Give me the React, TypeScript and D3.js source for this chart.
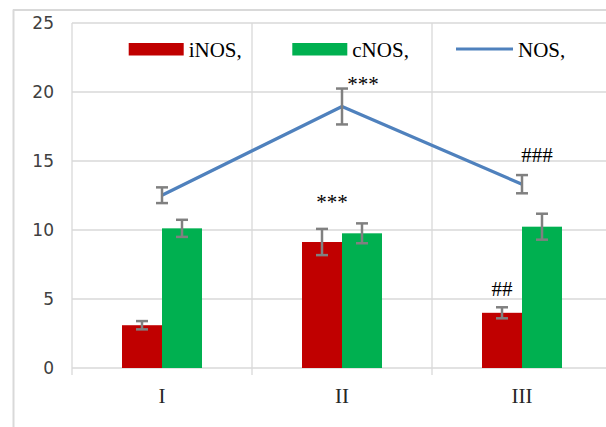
import React from "react";
import * as d3 from "d3";

// Categories and series values
const categories = ["I", "II", "III"];
const seriesNames = ["iNOS,", "cNOS,", "NOS,"];
const iNOS = [3.1, 9.13, 4.0];
const iNOSErr = [0.3, 0.95, 0.4];
const cNOS = [10.12, 9.76, 10.24];
const cNOSErr = [0.62, 0.72, 0.94];
const NOS = [12.52, 18.95, 13.32];
const NOSErr = [0.57, 1.3, 0.66];
const yTicks = [0, 5, 10, 15, 20, 25];

// Significance marks: which category / series they sit over
const marks = [
  { cat: "II", series: "NOS", text: "***" },
  { cat: "II", series: "bars", text: "***" },
  { cat: "III", series: "iNOS", text: "##" },
  { cat: "III", series: "NOS", text: "###" },
];

const W = 606;
const H = 427;
const RED = "#c00000";
const GREEN = "#00b050";
const BLUE = "#4f81bd";
const GRID = "#d9d9d9";
const ERR = "#808080";
const SERIF = "'Liberation Serif', 'Times New Roman', serif";

export default function App() {
  const x = d3.scaleBand<string>().domain(categories).range([72, 612]).paddingInner(0).paddingOuter(0);
  const bw = x.bandwidth();
  const sub = d3.scaleBand<string>().domain(["iNOS", "cNOS"]).range([bw / 2 - 40, bw / 2 + 40]);
  const y = d3.scaleLinear().domain([0, 25]).range([368, 23]);
  const cx = (c: string) => (x(c) as number) + bw / 2;

  const line = d3
    .line<number>()
    .x((_, i) => cx(categories[i]))
    .y((d) => y(d));

  const errBar = (xc: number, v: number, e: number, key: string) => (
    <g key={key} stroke={ERR} strokeWidth={2.5} fill="none">
      <line x1={xc} x2={xc} y1={y(v + e)} y2={y(v - e)} />
      <line x1={xc - 6} x2={xc + 6} y1={y(v + e)} y2={y(v + e)} />
      <line x1={xc - 6} x2={xc + 6} y1={y(v - e)} y2={y(v - e)} />
    </g>
  );

  const markPos = (m: { cat: string; series: string }) => {
    const i = categories.indexOf(m.cat);
    if (m.series === "NOS") {
      const top = y(NOS[i] + NOSErr[i]);
      return { x: cx(m.cat) + (m.cat === "II" ? 21 : 15), y: top + (m.cat === "II" ? 2 : -13) };
    }
    if (m.series === "iNOS") {
      return { x: (x(m.cat) as number) + (sub("iNOS") as number) + sub.bandwidth() / 2, y: y(iNOS[i] + iNOSErr[i]) - 11 };
    }
    return { x: cx(m.cat) - 10, y: y(iNOS[i] + iNOSErr[i]) - 20 };
  };

  const legendX = [128.7, 292.3, 456];

  return (
    <svg
      width={W}
      height={H}
      style={{ position: "absolute", left: 0, top: 0, background: "#fff" }}
      xmlns="http://www.w3.org/2000/svg"
    >
      <rect x={0} y={0} width={W} height={H} fill="#fff" />
      {/* chart frame */}
      <line x1={13.5} x2={13.5} y1={9.5} y2={H} stroke={GRID} strokeWidth={2} />
      <line x1={13} x2={W} y1={10} y2={10} stroke={GRID} strokeWidth={2} />

      {/* horizontal gridlines */}
      {yTicks.map((t) => (
        <line key={"h" + t} x1={72} x2={W} y1={y(t)} y2={y(t)} stroke={GRID} strokeWidth={1.3} />
      ))}
      {/* category separators */}
      {[...categories.map((c) => x(c) as number), 612].map((v, i) => (
        <line key={"v" + i} x1={v} x2={v} y1={y(25)} y2={y(0) + 7} stroke={GRID} strokeWidth={1.3} />
      ))}

      {/* y tick labels */}
      {yTicks.map((t) => (
        <text
          key={"yt" + t}
          x={54}
          y={y(t)}
          textAnchor="end"
          dominantBaseline="central"
          fontFamily="'DejaVu Sans', Verdana, sans-serif"
          fontSize={17}
          fill="#404040"
        >
          {t}
        </text>
      ))}

      {/* x labels */}
      {categories.map((c) => (
        <text key={"xl" + c} x={cx(c)} y={403} textAnchor="middle" fontFamily={SERIF} fontSize={21} fill="#262626">
          {c}
        </text>
      ))}

      {/* bars */}
      {categories.map((c, i) => (
        <g key={"b" + c}>
          <rect
            x={(x(c) as number) + (sub("iNOS") as number)}
            y={y(iNOS[i])}
            width={sub.bandwidth()}
            height={y(0) - y(iNOS[i])}
            fill={RED}
          />
          <rect
            x={(x(c) as number) + (sub("cNOS") as number)}
            y={y(cNOS[i])}
            width={sub.bandwidth()}
            height={y(0) - y(cNOS[i])}
            fill={GREEN}
          />
        </g>
      ))}
      {categories.map((c, i) =>
        errBar((x(c) as number) + (sub("iNOS") as number) + sub.bandwidth() / 2, iNOS[i], iNOSErr[i], "ei" + c)
      )}
      {categories.map((c, i) =>
        errBar((x(c) as number) + (sub("cNOS") as number) + sub.bandwidth() / 2, cNOS[i], cNOSErr[i], "ec" + c)
      )}

      {/* NOS line */}
      <path d={line(NOS) || ""} fill="none" stroke={BLUE} strokeWidth={3.2} strokeLinejoin="round" />
      {categories.map((c, i) => errBar(cx(c), NOS[i], NOSErr[i], "en" + c))}

      {/* significance marks */}
      {marks.map((m, i) => {
        const p = markPos(m);
        return (
          <text key={"m" + i} x={p.x} y={p.y} textAnchor="middle" fontFamily={SERIF} fontSize={21} fill="#000">
            {m.text}
          </text>
        );
      })}

      {/* legend */}
      <rect x={legendX[0]} y={43} width={55} height={12.5} fill={RED} />
      <rect x={legendX[1]} y={43} width={55} height={12.5} fill={GREEN} />
      <line x1={legendX[2]} x2={legendX[2] + 57} y1={49} y2={49} stroke={BLUE} strokeWidth={3.2} />
      {seriesNames.map((s, i) => (
        <text
          key={"lg" + s}
          x={legendX[i] + (i === 2 ? 62 : 60)}
          y={57}
          fontFamily={SERIF}
          fontSize={21}
          fill="#000"
        >
          {s}
        </text>
      ))}
    </svg>
  );
}
